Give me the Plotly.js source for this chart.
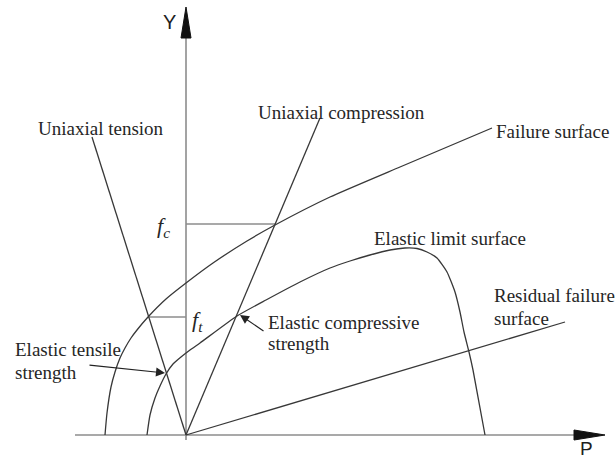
<!DOCTYPE html>
<html>
<head>
<meta charset="utf-8">
<script src="https://cdn.plot.ly/plotly-3.0.1.min.js"></script>
<style>html,body{margin:0;padding:0;background:#fff;}#chart{width:616px;height:457px;}</style>
</head>
<body>
<div id="chart"></div>
<script>
// Schematic coordinates: P to the right, Y upward, origin at the axes' crossing
const failureP = [-81, -79, -75, -71, -66, -61, -55, -49, -38, -20, 0, 27, 61, 89, 144, 214, 306];
const failureY = [0, 22, 48, 63, 77, 87, 97, 105, 118, 136, 152, 172, 194, 210, 238, 268, 307];

const elasticP = [-39, -36, -31, -26, -20, -13, -5, 4, 14, 51, 80, 114, 144, 164, 184, 204, 219, 231, 241, 251, 261, 269, 274, 278, 283, 287, 299];
const elasticY = [0, 20, 37, 49, 61, 71, 78, 85, 92, 119, 135, 153, 167, 174, 180, 185, 187, 186.5, 183, 177, 163, 143, 123, 103, 83, 65, 0];

const tensionP = [0, -94];
const tensionY = [0, 298];
const compressionP = [0, 134];
const compressionY = [0, 317];
const residualP = [0, 379];
const residualY = [0, 113];

const fcLevel = 211;   // f_c
const fcEndP = 89;
const ftLevel = 118;   // f_t
const ftStartP = -38;

const pAxisFrom = -111, pAxisTo = 419;
const yAxisFrom = -5, yAxisTo = 428;

const curveColor = '#383838';
const axisColor = '#8c8c8c';
const txtColor = '#262626';

function line(x, y, color, width, shape) {
  return {type: 'scatter', mode: 'lines', x: x, y: y, hoverinfo: 'skip',
          line: {color: color, width: width, shape: shape || 'linear', smoothing: 0.5}};
}

const headLen = 31, headHalf = 5;
const traces = [
  line([pAxisFrom, pAxisTo - headLen], [0, 0], axisColor, 1.6),
  line([0, 0], [yAxisFrom, yAxisTo - headLen], axisColor, 1.6),
  {type: 'scatter', mode: 'lines', fill: 'toself', fillcolor: '#111', hoverinfo: 'skip',
   x: [pAxisTo, pAxisTo - headLen, pAxisTo - headLen, pAxisTo],
   y: [0, headHalf, -headHalf, 0], line: {color: '#111', width: 1}},
  {type: 'scatter', mode: 'lines', fill: 'toself', fillcolor: '#111', hoverinfo: 'skip',
   x: [0, -headHalf, headHalf, 0],
   y: [yAxisTo, yAxisTo - headLen, yAxisTo - headLen, yAxisTo], line: {color: '#111', width: 1}},
  line([0, fcEndP], [fcLevel, fcLevel], axisColor, 1.4),
  line([ftStartP, 0], [ftLevel, ftLevel], axisColor, 1.4),
  line(tensionP, tensionY, curveColor, 1.3),
  line(compressionP, compressionY, curveColor, 1.3),
  line(residualP, residualY, curveColor, 1.3),
  line(failureP, failureY, curveColor, 1.3, 'spline'),
  line(elasticP, elasticY, curveColor, 1.3, 'spline')
];

const serif = {family: 'Liberation Serif, Times New Roman, serif', size: 19, color: txtColor};
const sans = {family: 'Liberation Sans, Arial, sans-serif', size: 20, color: '#1e1e1e'};

function label(text, x, y, font, anchor, vanchor) {
  return {text: text, x: x, y: y, xref: 'x', yref: 'y', showarrow: false,
          xanchor: anchor || 'left', yanchor: vanchor || 'middle', font: font};
}

const annotations = [
  label('Uniaxial tension', -150, 307, serif),
  label('Uniaxial compression', 70, 323, serif),
  label('Failure surface', 308, 304, serif),
  label('Elastic limit surface', 186, 197, serif),
  label('Residual failure', 306, 140, serif),
  label('surface', 306, 117, serif),
  label('Elastic compressive', 80, 113, serif),
  label('strength', 80, 92, serif),
  label('Elastic tensile', -173, 86, serif),
  label('strength', -173, 63, serif),
  label('<i>f</i><sub><i>c</i></sub>', -31, 208, {family: 'Liberation Serif, serif', size: 22, color: txtColor}),
  label('<i>f</i><sub><i>t</i></sub>', 4, 114, {family: 'Liberation Serif, serif', size: 22, color: txtColor}),
  label('Y', -17, 413, sans, 'center'),
  label('P', 400, -13, {family: 'Liberation Sans, Arial, sans-serif', size: 19, color: '#1e1e1e'}, 'center'),
  {text: '', x: -21, y: 62, ax: -98, ay: 70, xref: 'x', yref: 'y', axref: 'x', ayref: 'y',
   showarrow: true, arrowhead: 2, arrowsize: 1.5, arrowwidth: 1.2, arrowcolor: '#222', standoff: 0},
  {text: '', x: 54, y: 120, ax: 79, ay: 103, xref: 'x', yref: 'y', axref: 'x', ayref: 'y',
   showarrow: true, arrowhead: 2, arrowsize: 1.5, arrowwidth: 1.2, arrowcolor: '#222', standoff: 0}
];

const layout = {
  width: 616, height: 457,
  margin: {l: 0, r: 0, t: 0, b: 0},
  paper_bgcolor: '#fff', plot_bgcolor: '#fff',
  showlegend: false,
  xaxis: {range: [-186, 430], visible: false, fixedrange: true},
  yaxis: {range: [-22, 435], visible: false, fixedrange: true},
  annotations: annotations
};

Plotly.newPlot('chart', traces, layout, {staticPlot: true, displayModeBar: false});
</script>
</body>
</html>
